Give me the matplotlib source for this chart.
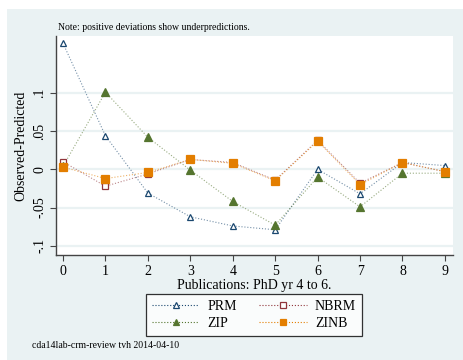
import matplotlib
matplotlib.use("Agg")
import matplotlib.pyplot as plt
from matplotlib.patches import Rectangle

plt.rcParams['font.family'] = ['Liberation Serif', 'DejaVu Serif']

counts = [0, 1, 2, 3, 4, 5, 6, 7, 8, 9]
prm = [0.165, 0.044, -0.031, -0.062, -0.074, -0.079, 0.000, -0.032, 0.009, 0.005]
nbrm = [0.010, -0.022, -0.006, 0.013, 0.009, -0.014, 0.038, -0.018, 0.009, -0.003]
zip_ = [0.004, 0.101, 0.042, -0.001, -0.042, -0.073, -0.010, -0.049, -0.005, -0.005]
zinb = [0.003, -0.012, -0.004, 0.013, 0.008, -0.015, 0.037, -0.020, 0.009, -0.003]
yticks = [-0.1, -0.05, 0, 0.05, 0.1]
ytick_labels = ['-.1', '-.05', '0', '.05', '.1']

bg = '#eaf2f3'
fig = plt.figure(figsize=(4.63, 3.60), dpi=100)
fig.patch.set_facecolor('white')
fig.patches.append(Rectangle((7/463, 0), 1 - 7/463, (360-9)/360, transform=fig.transFigure,
                             facecolor=bg, edgecolor='none', zorder=-10))

ax = fig.add_axes([56/463, (360-255)/360, (453-56)/463, (255-36)/360])
ax.set_facecolor('white')

navy = '#1a476f'
maroon = '#90353b'
green = '#55752f'
orange = '#e37e00'

def draw(y, color, marker, ms, fill, label):
    # faint dotted connecting line
    ax.plot(counts, y, linestyle=':', linewidth=0.8, color=color, alpha=0.6, zorder=2)
    ax.plot(counts, y, linestyle='none', marker=marker, markersize=ms,
            markerfacecolor=(color if fill else 'white'), markeredgecolor=color,
            markeredgewidth=0.9, zorder=3)
    return ax.plot([], [], linestyle=':', linewidth=0.8, color=color, marker=marker,
                   markersize=ms * 0.8, markerfacecolor=(color if fill else 'white'),
                   markeredgecolor=color, markeredgewidth=0.9, label=label)[0]

l1 = draw(prm, navy, '^', 5, False, 'PRM')
l2 = draw(nbrm, maroon, 's', 5, False, 'NBRM')
l3 = draw(zip_, green, '^', 6, True, 'ZIP')
l4 = draw(zinb, orange, 's', 6, True, 'ZINB')

ax.set_xlim(-0.165, 9.19)
ax.set_ylim(-0.112, 0.1745)
ax.set_xticks(counts)
ax.set_yticks(yticks)
ax.set_yticklabels(ytick_labels, rotation=90, va='center')
for y in yticks:
    ax.axhline(y, color=bg, linewidth=1.6, zorder=1)

for s in ['top', 'right']:
    ax.spines[s].set_visible(False)
for s in ['left', 'bottom']:
    ax.spines[s].set_color('#444444')
    ax.spines[s].set_linewidth(1.0)
ax.tick_params(axis='both', direction='out', length=4, width=0.8, color='#444444',
               labelsize=10, labelcolor='black', pad=3)

ax.set_xlabel('Publications: PhD yr 4 to 6.', fontsize=10, labelpad=1)
ax.set_ylabel('Observed-Predicted', fontsize=10, labelpad=4)

fig.text(58/463, 1 - 28/360, 'Note: positive deviations show underpredictions.', fontsize=7,
         ha='left', va='center')
fig.text(32/463, 1 - 345/360, 'cda14lab-crm-review tvh 2014-04-10', fontsize=7,
         ha='left', va='center')

leg = fig.legend(handles=[l1, l3, l2, l4], labels=['PRM', 'ZIP', 'NBRM', 'ZINB'], ncol=2,
                 loc='center', bbox_to_anchor=(254/463, 1 - 315/360), fontsize=10,
                 frameon=True, fancybox=False, edgecolor='black', handlelength=3.4,
                 columnspacing=1.6, borderpad=0.4, labelspacing=0.3, handletextpad=0.6,
                 borderaxespad=0)
leg.get_frame().set_linewidth(0.9)

fig.savefig('out.png', dpi=100, facecolor=fig.get_facecolor())
